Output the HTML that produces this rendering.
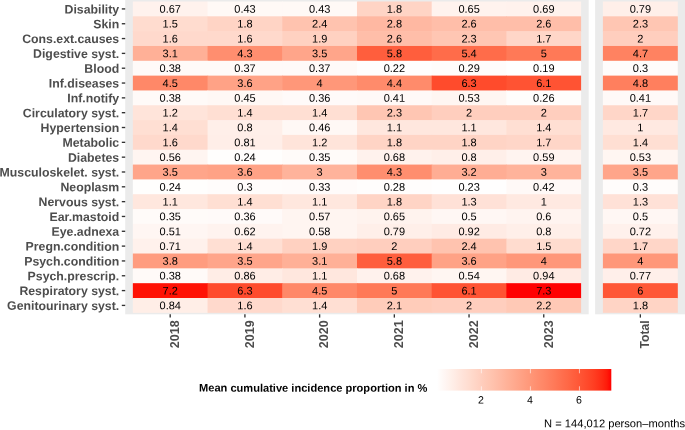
<!DOCTYPE html>
<html><head><meta charset="utf-8"><title>heatmap</title>
<style>
html,body{margin:0;padding:0;background:#fff;}
body{width:685px;height:430px;overflow:hidden;}
svg{display:block;font-family:"Liberation Sans",sans-serif;will-change:transform;opacity:0.999;}
.c{font-size:11.0px;fill:#000;text-anchor:middle;}
.yl{font-size:12.3px;font-weight:bold;fill:#4d4d4d;text-anchor:end;}
.xl{font-size:12.6px;font-weight:bold;fill:#4d4d4d;text-anchor:end;}
.tk{stroke:#333333;stroke-width:1.35;fill:none;}
</style></head><body>
<svg width="685" height="430" viewBox="0 0 685 430">
<rect x="0" y="0" width="685" height="430" fill="#ffffff"/>
<rect x="125.2" y="0" width="463.50" height="314.3" fill="#ebebeb"/>
<rect x="595.1" y="0" width="89.90" height="314.3" fill="#ebebeb"/>
<g>
<rect x="132.85" y="1.50" width="75.31" height="15.425" fill="#fff2ed"/>
<rect x="207.56" y="1.50" width="75.31" height="15.425" fill="#fff9f6"/>
<rect x="282.27" y="1.50" width="75.31" height="15.425" fill="#fff9f6"/>
<rect x="356.98" y="1.50" width="75.31" height="15.425" fill="#ffd4c5"/>
<rect x="431.69" y="1.50" width="75.31" height="15.425" fill="#fff3ee"/>
<rect x="506.40" y="1.50" width="74.71" height="15.425" fill="#fff2ed"/>
<rect x="602.90" y="1.50" width="74.90" height="15.425" fill="#ffefe9"/>
<rect x="132.85" y="16.32" width="75.31" height="15.425" fill="#ffdccf"/>
<rect x="207.56" y="16.32" width="75.31" height="15.425" fill="#ffd4c5"/>
<rect x="282.27" y="16.32" width="75.31" height="15.425" fill="#ffc3af"/>
<rect x="356.98" y="16.32" width="75.31" height="15.425" fill="#ffb8a2"/>
<rect x="431.69" y="16.32" width="75.31" height="15.425" fill="#ffbea9"/>
<rect x="506.40" y="16.32" width="74.71" height="15.425" fill="#ffbea9"/>
<rect x="602.90" y="16.32" width="74.90" height="15.425" fill="#ffc6b3"/>
<rect x="132.85" y="31.15" width="75.31" height="15.425" fill="#ffd9cc"/>
<rect x="207.56" y="31.15" width="75.31" height="15.425" fill="#ffd9cc"/>
<rect x="282.27" y="31.15" width="75.31" height="15.425" fill="#ffd1c1"/>
<rect x="356.98" y="31.15" width="75.31" height="15.425" fill="#ffbea9"/>
<rect x="431.69" y="31.15" width="75.31" height="15.425" fill="#ffc6b3"/>
<rect x="506.40" y="31.15" width="74.71" height="15.425" fill="#ffd6c8"/>
<rect x="602.90" y="31.15" width="74.90" height="15.425" fill="#ffcebe"/>
<rect x="132.85" y="45.97" width="75.31" height="15.425" fill="#ffb097"/>
<rect x="207.56" y="45.97" width="75.31" height="15.425" fill="#ff8e6f"/>
<rect x="282.27" y="45.97" width="75.31" height="15.425" fill="#ffa58a"/>
<rect x="356.98" y="45.97" width="75.31" height="15.425" fill="#ff5e3d"/>
<rect x="431.69" y="45.97" width="75.31" height="15.425" fill="#ff6c4a"/>
<rect x="506.40" y="45.97" width="74.71" height="15.425" fill="#ff7957"/>
<rect x="602.90" y="45.97" width="74.90" height="15.425" fill="#ff8261"/>
<rect x="132.85" y="60.80" width="75.31" height="15.425" fill="#fffaf8"/>
<rect x="207.56" y="60.80" width="75.31" height="15.425" fill="#fffaf8"/>
<rect x="282.27" y="60.80" width="75.31" height="15.425" fill="#fffaf8"/>
<rect x="356.98" y="60.80" width="75.31" height="15.425" fill="#fffefe"/>
<rect x="431.69" y="60.80" width="75.31" height="15.425" fill="#fffcfb"/>
<rect x="506.40" y="60.80" width="74.71" height="15.425" fill="#ffffff"/>
<rect x="602.90" y="60.80" width="74.90" height="15.425" fill="#fffcfb"/>
<rect x="132.85" y="75.62" width="75.31" height="15.425" fill="#ff8868"/>
<rect x="207.56" y="75.62" width="75.31" height="15.425" fill="#ffa286"/>
<rect x="282.27" y="75.62" width="75.31" height="15.425" fill="#ff9779"/>
<rect x="356.98" y="75.62" width="75.31" height="15.425" fill="#ff8b6b"/>
<rect x="431.69" y="75.62" width="75.31" height="15.425" fill="#ff4b2c"/>
<rect x="506.40" y="75.62" width="74.71" height="15.425" fill="#ff5333"/>
<rect x="602.90" y="75.62" width="74.90" height="15.425" fill="#ff7f5e"/>
<rect x="132.85" y="90.45" width="75.31" height="15.425" fill="#fffaf8"/>
<rect x="207.56" y="90.45" width="75.31" height="15.425" fill="#fff8f5"/>
<rect x="282.27" y="90.45" width="75.31" height="15.425" fill="#fffaf9"/>
<rect x="356.98" y="90.45" width="75.31" height="15.425" fill="#fff9f7"/>
<rect x="431.69" y="90.45" width="75.31" height="15.425" fill="#fff6f2"/>
<rect x="506.40" y="90.45" width="74.71" height="15.425" fill="#fffdfc"/>
<rect x="602.90" y="90.45" width="74.90" height="15.425" fill="#fff9f7"/>
<rect x="132.85" y="105.27" width="75.31" height="15.425" fill="#ffe4da"/>
<rect x="207.56" y="105.27" width="75.31" height="15.425" fill="#ffdfd3"/>
<rect x="282.27" y="105.27" width="75.31" height="15.425" fill="#ffdfd3"/>
<rect x="356.98" y="105.27" width="75.31" height="15.425" fill="#ffc6b3"/>
<rect x="431.69" y="105.27" width="75.31" height="15.425" fill="#ffcebe"/>
<rect x="506.40" y="105.27" width="74.71" height="15.425" fill="#ffcebe"/>
<rect x="602.90" y="105.27" width="74.90" height="15.425" fill="#ffd6c8"/>
<rect x="132.85" y="120.10" width="75.31" height="15.425" fill="#ffdfd3"/>
<rect x="207.56" y="120.10" width="75.31" height="15.425" fill="#ffefe9"/>
<rect x="282.27" y="120.10" width="75.31" height="15.425" fill="#fff8f5"/>
<rect x="356.98" y="120.10" width="75.31" height="15.425" fill="#ffe7de"/>
<rect x="431.69" y="120.10" width="75.31" height="15.425" fill="#ffe7de"/>
<rect x="506.40" y="120.10" width="74.71" height="15.425" fill="#ffdfd3"/>
<rect x="602.90" y="120.10" width="74.90" height="15.425" fill="#ffe9e1"/>
<rect x="132.85" y="134.92" width="75.31" height="15.425" fill="#ffd9cc"/>
<rect x="207.56" y="134.92" width="75.31" height="15.425" fill="#ffeee8"/>
<rect x="282.27" y="134.92" width="75.31" height="15.425" fill="#ffe4da"/>
<rect x="356.98" y="134.92" width="75.31" height="15.425" fill="#ffd4c5"/>
<rect x="431.69" y="134.92" width="75.31" height="15.425" fill="#ffd4c5"/>
<rect x="506.40" y="134.92" width="74.71" height="15.425" fill="#ffd6c8"/>
<rect x="602.90" y="134.92" width="74.90" height="15.425" fill="#ffdfd3"/>
<rect x="132.85" y="149.75" width="75.31" height="15.425" fill="#fff5f1"/>
<rect x="207.56" y="149.75" width="75.31" height="15.425" fill="#fffefd"/>
<rect x="282.27" y="149.75" width="75.31" height="15.425" fill="#fffbf9"/>
<rect x="356.98" y="149.75" width="75.31" height="15.425" fill="#fff2ed"/>
<rect x="431.69" y="149.75" width="75.31" height="15.425" fill="#ffefe9"/>
<rect x="506.40" y="149.75" width="74.71" height="15.425" fill="#fff4f0"/>
<rect x="602.90" y="149.75" width="74.90" height="15.425" fill="#fff6f2"/>
<rect x="132.85" y="164.57" width="75.31" height="15.425" fill="#ffa58a"/>
<rect x="207.56" y="164.57" width="75.31" height="15.425" fill="#ffa286"/>
<rect x="282.27" y="164.57" width="75.31" height="15.425" fill="#ffb39b"/>
<rect x="356.98" y="164.57" width="75.31" height="15.425" fill="#ff8e6f"/>
<rect x="431.69" y="164.57" width="75.31" height="15.425" fill="#ffad94"/>
<rect x="506.40" y="164.57" width="74.71" height="15.425" fill="#ffb39b"/>
<rect x="602.90" y="164.57" width="74.90" height="15.425" fill="#ffa58a"/>
<rect x="132.85" y="179.40" width="75.31" height="15.425" fill="#fffefd"/>
<rect x="207.56" y="179.40" width="75.31" height="15.425" fill="#fffcfb"/>
<rect x="282.27" y="179.40" width="75.31" height="15.425" fill="#fffbfa"/>
<rect x="356.98" y="179.40" width="75.31" height="15.425" fill="#fffdfc"/>
<rect x="431.69" y="179.40" width="75.31" height="15.425" fill="#fffefe"/>
<rect x="506.40" y="179.40" width="74.71" height="15.425" fill="#fff9f7"/>
<rect x="602.90" y="179.40" width="74.90" height="15.425" fill="#fffcfb"/>
<rect x="132.85" y="194.22" width="75.31" height="15.425" fill="#ffe7de"/>
<rect x="207.56" y="194.22" width="75.31" height="15.425" fill="#ffdfd3"/>
<rect x="282.27" y="194.22" width="75.31" height="15.425" fill="#ffe7de"/>
<rect x="356.98" y="194.22" width="75.31" height="15.425" fill="#ffd4c5"/>
<rect x="431.69" y="194.22" width="75.31" height="15.425" fill="#ffe1d7"/>
<rect x="506.40" y="194.22" width="74.71" height="15.425" fill="#ffe9e1"/>
<rect x="602.90" y="194.22" width="74.90" height="15.425" fill="#ffe1d7"/>
<rect x="132.85" y="209.05" width="75.31" height="15.425" fill="#fffbf9"/>
<rect x="207.56" y="209.05" width="75.31" height="15.425" fill="#fffaf9"/>
<rect x="282.27" y="209.05" width="75.31" height="15.425" fill="#fff5f1"/>
<rect x="356.98" y="209.05" width="75.31" height="15.425" fill="#fff3ee"/>
<rect x="431.69" y="209.05" width="75.31" height="15.425" fill="#fff7f4"/>
<rect x="506.40" y="209.05" width="74.71" height="15.425" fill="#fff4f0"/>
<rect x="602.90" y="209.05" width="74.90" height="15.425" fill="#fff7f4"/>
<rect x="132.85" y="223.88" width="75.31" height="15.425" fill="#fff6f3"/>
<rect x="207.56" y="223.88" width="75.31" height="15.425" fill="#fff3ef"/>
<rect x="282.27" y="223.88" width="75.31" height="15.425" fill="#fff5f1"/>
<rect x="356.98" y="223.88" width="75.31" height="15.425" fill="#ffefe9"/>
<rect x="431.69" y="223.88" width="75.31" height="15.425" fill="#ffebe4"/>
<rect x="506.40" y="223.88" width="74.71" height="15.425" fill="#ffefe9"/>
<rect x="602.90" y="223.88" width="74.90" height="15.425" fill="#fff1ec"/>
<rect x="132.85" y="238.70" width="75.31" height="15.425" fill="#fff1ec"/>
<rect x="207.56" y="238.70" width="75.31" height="15.425" fill="#ffdfd3"/>
<rect x="282.27" y="238.70" width="75.31" height="15.425" fill="#ffd1c1"/>
<rect x="356.98" y="238.70" width="75.31" height="15.425" fill="#ffcebe"/>
<rect x="431.69" y="238.70" width="75.31" height="15.425" fill="#ffc3af"/>
<rect x="506.40" y="238.70" width="74.71" height="15.425" fill="#ffdccf"/>
<rect x="602.90" y="238.70" width="74.90" height="15.425" fill="#ffd6c8"/>
<rect x="132.85" y="253.52" width="75.31" height="15.425" fill="#ff9c7f"/>
<rect x="207.56" y="253.52" width="75.31" height="15.425" fill="#ffa58a"/>
<rect x="282.27" y="253.52" width="75.31" height="15.425" fill="#ffb097"/>
<rect x="356.98" y="253.52" width="75.31" height="15.425" fill="#ff5e3d"/>
<rect x="431.69" y="253.52" width="75.31" height="15.425" fill="#ffa286"/>
<rect x="506.40" y="253.52" width="74.71" height="15.425" fill="#ff9779"/>
<rect x="602.90" y="253.52" width="74.90" height="15.425" fill="#ff9779"/>
<rect x="132.85" y="268.35" width="75.31" height="15.425" fill="#fffaf8"/>
<rect x="207.56" y="268.35" width="75.31" height="15.425" fill="#ffede6"/>
<rect x="282.27" y="268.35" width="75.31" height="15.425" fill="#ffe7de"/>
<rect x="356.98" y="268.35" width="75.31" height="15.425" fill="#fff2ed"/>
<rect x="431.69" y="268.35" width="75.31" height="15.425" fill="#fff6f2"/>
<rect x="506.40" y="268.35" width="74.71" height="15.425" fill="#ffebe4"/>
<rect x="602.90" y="268.35" width="74.90" height="15.425" fill="#ffefea"/>
<rect x="132.85" y="283.18" width="75.31" height="15.425" fill="#ff1205"/>
<rect x="207.56" y="283.18" width="75.31" height="15.425" fill="#ff4b2c"/>
<rect x="282.27" y="283.18" width="75.31" height="15.425" fill="#ff8868"/>
<rect x="356.98" y="283.18" width="75.31" height="15.425" fill="#ff7957"/>
<rect x="431.69" y="283.18" width="75.31" height="15.425" fill="#ff5333"/>
<rect x="506.40" y="283.18" width="74.71" height="15.425" fill="#ff0000"/>
<rect x="602.90" y="283.18" width="74.90" height="15.425" fill="#ff5736"/>
<rect x="132.85" y="298.00" width="75.31" height="14.825" fill="#ffeee7"/>
<rect x="207.56" y="298.00" width="75.31" height="14.825" fill="#ffd9cc"/>
<rect x="282.27" y="298.00" width="75.31" height="14.825" fill="#ffdfd3"/>
<rect x="356.98" y="298.00" width="75.31" height="14.825" fill="#ffccba"/>
<rect x="431.69" y="298.00" width="75.31" height="14.825" fill="#ffcebe"/>
<rect x="506.40" y="298.00" width="74.71" height="14.825" fill="#ffc9b6"/>
<rect x="602.90" y="298.00" width="74.90" height="14.825" fill="#ffd4c5"/>
</g>
<g class="c">
<text transform="translate(170.25,12.76) rotate(0.05)">0.67</text>
<text transform="translate(244.97,12.76) rotate(0.05)">0.43</text>
<text transform="translate(319.68,12.76) rotate(0.05)">0.43</text>
<text transform="translate(394.39,12.76) rotate(0.05)">1.8</text>
<text transform="translate(469.09,12.76) rotate(0.05)">0.65</text>
<text transform="translate(543.80,12.76) rotate(0.05)">0.69</text>
<text transform="translate(640.40,12.76) rotate(0.05)">0.79</text>
<text transform="translate(170.25,27.59) rotate(0.05)">1.5</text>
<text transform="translate(244.97,27.59) rotate(0.05)">1.8</text>
<text transform="translate(319.68,27.59) rotate(0.05)">2.4</text>
<text transform="translate(394.39,27.59) rotate(0.05)">2.8</text>
<text transform="translate(469.09,27.59) rotate(0.05)">2.6</text>
<text transform="translate(543.80,27.59) rotate(0.05)">2.6</text>
<text transform="translate(640.40,27.59) rotate(0.05)">2.3</text>
<text transform="translate(170.25,42.41) rotate(0.05)">1.6</text>
<text transform="translate(244.97,42.41) rotate(0.05)">1.6</text>
<text transform="translate(319.68,42.41) rotate(0.05)">1.9</text>
<text transform="translate(394.39,42.41) rotate(0.05)">2.6</text>
<text transform="translate(469.09,42.41) rotate(0.05)">2.3</text>
<text transform="translate(543.80,42.41) rotate(0.05)">1.7</text>
<text transform="translate(640.40,42.41) rotate(0.05)">2</text>
<text transform="translate(170.25,57.24) rotate(0.05)">3.1</text>
<text transform="translate(244.97,57.24) rotate(0.05)">4.3</text>
<text transform="translate(319.68,57.24) rotate(0.05)">3.5</text>
<text transform="translate(394.39,57.24) rotate(0.05)">5.8</text>
<text transform="translate(469.09,57.24) rotate(0.05)">5.4</text>
<text transform="translate(543.80,57.24) rotate(0.05)">5</text>
<text transform="translate(640.40,57.24) rotate(0.05)">4.7</text>
<text transform="translate(170.25,72.06) rotate(0.05)">0.38</text>
<text transform="translate(244.97,72.06) rotate(0.05)">0.37</text>
<text transform="translate(319.68,72.06) rotate(0.05)">0.37</text>
<text transform="translate(394.39,72.06) rotate(0.05)">0.22</text>
<text transform="translate(469.09,72.06) rotate(0.05)">0.29</text>
<text transform="translate(543.80,72.06) rotate(0.05)">0.19</text>
<text transform="translate(640.40,72.06) rotate(0.05)">0.3</text>
<text transform="translate(170.25,86.89) rotate(0.05)">4.5</text>
<text transform="translate(244.97,86.89) rotate(0.05)">3.6</text>
<text transform="translate(319.68,86.89) rotate(0.05)">4</text>
<text transform="translate(394.39,86.89) rotate(0.05)">4.4</text>
<text transform="translate(469.09,86.89) rotate(0.05)">6.3</text>
<text transform="translate(543.80,86.89) rotate(0.05)">6.1</text>
<text transform="translate(640.40,86.89) rotate(0.05)">4.8</text>
<text transform="translate(170.25,101.71) rotate(0.05)">0.38</text>
<text transform="translate(244.97,101.71) rotate(0.05)">0.45</text>
<text transform="translate(319.68,101.71) rotate(0.05)">0.36</text>
<text transform="translate(394.39,101.71) rotate(0.05)">0.41</text>
<text transform="translate(469.09,101.71) rotate(0.05)">0.53</text>
<text transform="translate(543.80,101.71) rotate(0.05)">0.26</text>
<text transform="translate(640.40,101.71) rotate(0.05)">0.41</text>
<text transform="translate(170.25,116.54) rotate(0.05)">1.2</text>
<text transform="translate(244.97,116.54) rotate(0.05)">1.4</text>
<text transform="translate(319.68,116.54) rotate(0.05)">1.4</text>
<text transform="translate(394.39,116.54) rotate(0.05)">2.3</text>
<text transform="translate(469.09,116.54) rotate(0.05)">2</text>
<text transform="translate(543.80,116.54) rotate(0.05)">2</text>
<text transform="translate(640.40,116.54) rotate(0.05)">1.7</text>
<text transform="translate(170.25,131.36) rotate(0.05)">1.4</text>
<text transform="translate(244.97,131.36) rotate(0.05)">0.8</text>
<text transform="translate(319.68,131.36) rotate(0.05)">0.46</text>
<text transform="translate(394.39,131.36) rotate(0.05)">1.1</text>
<text transform="translate(469.09,131.36) rotate(0.05)">1.1</text>
<text transform="translate(543.80,131.36) rotate(0.05)">1.4</text>
<text transform="translate(640.40,131.36) rotate(0.05)">1</text>
<text transform="translate(170.25,146.19) rotate(0.05)">1.6</text>
<text transform="translate(244.97,146.19) rotate(0.05)">0.81</text>
<text transform="translate(319.68,146.19) rotate(0.05)">1.2</text>
<text transform="translate(394.39,146.19) rotate(0.05)">1.8</text>
<text transform="translate(469.09,146.19) rotate(0.05)">1.8</text>
<text transform="translate(543.80,146.19) rotate(0.05)">1.7</text>
<text transform="translate(640.40,146.19) rotate(0.05)">1.4</text>
<text transform="translate(170.25,161.01) rotate(0.05)">0.56</text>
<text transform="translate(244.97,161.01) rotate(0.05)">0.24</text>
<text transform="translate(319.68,161.01) rotate(0.05)">0.35</text>
<text transform="translate(394.39,161.01) rotate(0.05)">0.68</text>
<text transform="translate(469.09,161.01) rotate(0.05)">0.8</text>
<text transform="translate(543.80,161.01) rotate(0.05)">0.59</text>
<text transform="translate(640.40,161.01) rotate(0.05)">0.53</text>
<text transform="translate(170.25,175.84) rotate(0.05)">3.5</text>
<text transform="translate(244.97,175.84) rotate(0.05)">3.6</text>
<text transform="translate(319.68,175.84) rotate(0.05)">3</text>
<text transform="translate(394.39,175.84) rotate(0.05)">4.3</text>
<text transform="translate(469.09,175.84) rotate(0.05)">3.2</text>
<text transform="translate(543.80,175.84) rotate(0.05)">3</text>
<text transform="translate(640.40,175.84) rotate(0.05)">3.5</text>
<text transform="translate(170.25,190.66) rotate(0.05)">0.24</text>
<text transform="translate(244.97,190.66) rotate(0.05)">0.3</text>
<text transform="translate(319.68,190.66) rotate(0.05)">0.33</text>
<text transform="translate(394.39,190.66) rotate(0.05)">0.28</text>
<text transform="translate(469.09,190.66) rotate(0.05)">0.23</text>
<text transform="translate(543.80,190.66) rotate(0.05)">0.42</text>
<text transform="translate(640.40,190.66) rotate(0.05)">0.3</text>
<text transform="translate(170.25,205.49) rotate(0.05)">1.1</text>
<text transform="translate(244.97,205.49) rotate(0.05)">1.4</text>
<text transform="translate(319.68,205.49) rotate(0.05)">1.1</text>
<text transform="translate(394.39,205.49) rotate(0.05)">1.8</text>
<text transform="translate(469.09,205.49) rotate(0.05)">1.3</text>
<text transform="translate(543.80,205.49) rotate(0.05)">1</text>
<text transform="translate(640.40,205.49) rotate(0.05)">1.3</text>
<text transform="translate(170.25,220.31) rotate(0.05)">0.35</text>
<text transform="translate(244.97,220.31) rotate(0.05)">0.36</text>
<text transform="translate(319.68,220.31) rotate(0.05)">0.57</text>
<text transform="translate(394.39,220.31) rotate(0.05)">0.65</text>
<text transform="translate(469.09,220.31) rotate(0.05)">0.5</text>
<text transform="translate(543.80,220.31) rotate(0.05)">0.6</text>
<text transform="translate(640.40,220.31) rotate(0.05)">0.5</text>
<text transform="translate(170.25,235.14) rotate(0.05)">0.51</text>
<text transform="translate(244.97,235.14) rotate(0.05)">0.62</text>
<text transform="translate(319.68,235.14) rotate(0.05)">0.58</text>
<text transform="translate(394.39,235.14) rotate(0.05)">0.79</text>
<text transform="translate(469.09,235.14) rotate(0.05)">0.92</text>
<text transform="translate(543.80,235.14) rotate(0.05)">0.8</text>
<text transform="translate(640.40,235.14) rotate(0.05)">0.72</text>
<text transform="translate(170.25,249.96) rotate(0.05)">0.71</text>
<text transform="translate(244.97,249.96) rotate(0.05)">1.4</text>
<text transform="translate(319.68,249.96) rotate(0.05)">1.9</text>
<text transform="translate(394.39,249.96) rotate(0.05)">2</text>
<text transform="translate(469.09,249.96) rotate(0.05)">2.4</text>
<text transform="translate(543.80,249.96) rotate(0.05)">1.5</text>
<text transform="translate(640.40,249.96) rotate(0.05)">1.7</text>
<text transform="translate(170.25,264.79) rotate(0.05)">3.8</text>
<text transform="translate(244.97,264.79) rotate(0.05)">3.5</text>
<text transform="translate(319.68,264.79) rotate(0.05)">3.1</text>
<text transform="translate(394.39,264.79) rotate(0.05)">5.8</text>
<text transform="translate(469.09,264.79) rotate(0.05)">3.6</text>
<text transform="translate(543.80,264.79) rotate(0.05)">4</text>
<text transform="translate(640.40,264.79) rotate(0.05)">4</text>
<text transform="translate(170.25,279.61) rotate(0.05)">0.38</text>
<text transform="translate(244.97,279.61) rotate(0.05)">0.86</text>
<text transform="translate(319.68,279.61) rotate(0.05)">1.1</text>
<text transform="translate(394.39,279.61) rotate(0.05)">0.68</text>
<text transform="translate(469.09,279.61) rotate(0.05)">0.54</text>
<text transform="translate(543.80,279.61) rotate(0.05)">0.94</text>
<text transform="translate(640.40,279.61) rotate(0.05)">0.77</text>
<text transform="translate(170.25,294.44) rotate(0.05)">7.2</text>
<text transform="translate(244.97,294.44) rotate(0.05)">6.3</text>
<text transform="translate(319.68,294.44) rotate(0.05)">4.5</text>
<text transform="translate(394.39,294.44) rotate(0.05)">5</text>
<text transform="translate(469.09,294.44) rotate(0.05)">6.1</text>
<text transform="translate(543.80,294.44) rotate(0.05)">7.3</text>
<text transform="translate(640.40,294.44) rotate(0.05)">6</text>
<text transform="translate(170.25,309.26) rotate(0.05)">0.84</text>
<text transform="translate(244.97,309.26) rotate(0.05)">1.6</text>
<text transform="translate(319.68,309.26) rotate(0.05)">1.4</text>
<text transform="translate(394.39,309.26) rotate(0.05)">2.1</text>
<text transform="translate(469.09,309.26) rotate(0.05)">2</text>
<text transform="translate(543.80,309.26) rotate(0.05)">2.2</text>
<text transform="translate(640.40,309.26) rotate(0.05)">1.8</text>
</g>
<g class="yl">
<text transform="translate(119.2,13.45) rotate(0.05)">Disability</text>
<text transform="translate(119.2,28.28) rotate(0.05)">Skin</text>
<text transform="translate(119.2,43.10) rotate(0.05)">Cons.ext.causes</text>
<text transform="translate(119.2,57.93) rotate(0.05)">Digestive syst.</text>
<text transform="translate(119.2,72.75) rotate(0.05)">Blood</text>
<text transform="translate(119.2,87.58) rotate(0.05)">Inf.diseases</text>
<text transform="translate(119.2,102.40) rotate(0.05)">Inf.notify</text>
<text transform="translate(119.2,117.23) rotate(0.05)">Circulatory syst.</text>
<text transform="translate(119.2,132.05) rotate(0.05)">Hypertension</text>
<text transform="translate(119.2,146.88) rotate(0.05)">Metabolic</text>
<text transform="translate(119.2,161.70) rotate(0.05)">Diabetes</text>
<text transform="translate(119.2,176.53) rotate(0.05)">Musculoskelet. syst.</text>
<text transform="translate(119.2,191.35) rotate(0.05)">Neoplasm</text>
<text transform="translate(119.2,206.18) rotate(0.05)">Nervous syst.</text>
<text transform="translate(119.2,221.00) rotate(0.05)">Ear.mastoid</text>
<text transform="translate(119.2,235.83) rotate(0.05)">Eye.adnexa</text>
<text transform="translate(119.2,250.65) rotate(0.05)">Pregn.condition</text>
<text transform="translate(119.2,265.48) rotate(0.05)">Psych.condition</text>
<text transform="translate(119.2,280.30) rotate(0.05)">Psych.prescrip.</text>
<text transform="translate(119.2,295.13) rotate(0.05)">Respiratory syst.</text>
<text transform="translate(119.2,309.95) rotate(0.05)">Genitourinary syst.</text>
</g>
<g class="tk">
<line x1="121.8" x2="125.2" y1="8.91" y2="8.91"/>
<line x1="121.8" x2="125.2" y1="23.74" y2="23.74"/>
<line x1="121.8" x2="125.2" y1="38.56" y2="38.56"/>
<line x1="121.8" x2="125.2" y1="53.39" y2="53.39"/>
<line x1="121.8" x2="125.2" y1="68.21" y2="68.21"/>
<line x1="121.8" x2="125.2" y1="83.04" y2="83.04"/>
<line x1="121.8" x2="125.2" y1="97.86" y2="97.86"/>
<line x1="121.8" x2="125.2" y1="112.69" y2="112.69"/>
<line x1="121.8" x2="125.2" y1="127.51" y2="127.51"/>
<line x1="121.8" x2="125.2" y1="142.34" y2="142.34"/>
<line x1="121.8" x2="125.2" y1="157.16" y2="157.16"/>
<line x1="121.8" x2="125.2" y1="171.99" y2="171.99"/>
<line x1="121.8" x2="125.2" y1="186.81" y2="186.81"/>
<line x1="121.8" x2="125.2" y1="201.64" y2="201.64"/>
<line x1="121.8" x2="125.2" y1="216.46" y2="216.46"/>
<line x1="121.8" x2="125.2" y1="231.29" y2="231.29"/>
<line x1="121.8" x2="125.2" y1="246.11" y2="246.11"/>
<line x1="121.8" x2="125.2" y1="260.94" y2="260.94"/>
<line x1="121.8" x2="125.2" y1="275.76" y2="275.76"/>
<line x1="121.8" x2="125.2" y1="290.59" y2="290.59"/>
<line x1="121.8" x2="125.2" y1="305.41" y2="305.41"/>
<line x1="170.20" x2="170.20" y1="314.3" y2="317.60"/>
<line x1="244.91" x2="244.91" y1="314.3" y2="317.60"/>
<line x1="319.62" x2="319.62" y1="314.3" y2="317.60"/>
<line x1="394.34" x2="394.34" y1="314.3" y2="317.60"/>
<line x1="469.04" x2="469.04" y1="314.3" y2="317.60"/>
<line x1="543.75" x2="543.75" y1="314.3" y2="317.60"/>
<line x1="640.35" x2="640.35" y1="314.3" y2="317.60"/>
</g>
<g class="xl">
<text transform="translate(178.97,320.3) rotate(-90)">2018</text>
<text transform="translate(253.69,320.3) rotate(-90)">2019</text>
<text transform="translate(328.39,320.3) rotate(-90)">2020</text>
<text transform="translate(403.11,320.3) rotate(-90)">2021</text>
<text transform="translate(477.81,320.3) rotate(-90)">2022</text>
<text transform="translate(552.52,320.3) rotate(-90)">2023</text>
<text transform="translate(649.12,320.3) rotate(-90)" style="font-size:12.2px">Total</text>
</g>
<text transform="translate(199.0,391.6) rotate(0.05)" style="font-size:11.08px;font-weight:bold;fill:#000">Mean cumulative incidence proportion in %</text>
<defs><linearGradient id="lg" x1="0" x2="1" y1="0" y2="0"><stop offset="0.0000" stop-color="#ffffff"/><stop offset="0.0250" stop-color="#fffaf8"/><stop offset="0.0500" stop-color="#fff5f2"/><stop offset="0.0750" stop-color="#fff1eb"/><stop offset="0.1000" stop-color="#ffece5"/><stop offset="0.1250" stop-color="#ffe7de"/><stop offset="0.1500" stop-color="#ffe2d8"/><stop offset="0.1750" stop-color="#ffded2"/><stop offset="0.2000" stop-color="#ffd9cb"/><stop offset="0.2250" stop-color="#ffd4c5"/><stop offset="0.2500" stop-color="#ffcfbf"/><stop offset="0.2750" stop-color="#ffcab8"/><stop offset="0.3000" stop-color="#ffc6b2"/><stop offset="0.3250" stop-color="#ffc1ac"/><stop offset="0.3500" stop-color="#ffbca6"/><stop offset="0.3750" stop-color="#ffb7a0"/><stop offset="0.4000" stop-color="#ffb299"/><stop offset="0.4250" stop-color="#ffad93"/><stop offset="0.4500" stop-color="#ffa88d"/><stop offset="0.4750" stop-color="#ffa387"/><stop offset="0.5000" stop-color="#ff9e81"/><stop offset="0.5250" stop-color="#ff997b"/><stop offset="0.5500" stop-color="#ff9475"/><stop offset="0.5750" stop-color="#ff8e6f"/><stop offset="0.6000" stop-color="#ff8969"/><stop offset="0.6250" stop-color="#ff8464"/><stop offset="0.6500" stop-color="#ff7e5e"/><stop offset="0.6750" stop-color="#ff7958"/><stop offset="0.7000" stop-color="#ff7352"/><stop offset="0.7250" stop-color="#ff6d4c"/><stop offset="0.7500" stop-color="#ff6846"/><stop offset="0.7750" stop-color="#ff6140"/><stop offset="0.8000" stop-color="#ff5b3a"/><stop offset="0.8250" stop-color="#ff5434"/><stop offset="0.8500" stop-color="#ff4d2e"/><stop offset="0.8750" stop-color="#ff4628"/><stop offset="0.9000" stop-color="#ff3e22"/><stop offset="0.9250" stop-color="#ff341b"/><stop offset="0.9500" stop-color="#ff2913"/><stop offset="0.9750" stop-color="#ff1b0a"/><stop offset="1.0000" stop-color="#ff0000"/></linearGradient></defs>
<rect x="437.0" y="369.0" width="174.30" height="21.60" fill="url(#lg)"/>
<line x1="481.37" x2="481.37" y1="369.0" y2="373.30" stroke="#fff" stroke-width="0.6"/>
<line x1="481.37" x2="481.37" y1="386.30" y2="390.6" stroke="#fff" stroke-width="0.6"/>
<text transform="translate(480.97,403.6) rotate(0.05)" style="font-size:10.6px;fill:#000;text-anchor:middle">2</text>
<line x1="530.40" x2="530.40" y1="369.0" y2="373.30" stroke="#fff" stroke-width="0.6"/>
<line x1="530.40" x2="530.40" y1="386.30" y2="390.6" stroke="#fff" stroke-width="0.6"/>
<text transform="translate(530.00,403.6) rotate(0.05)" style="font-size:10.6px;fill:#000;text-anchor:middle">4</text>
<line x1="579.43" x2="579.43" y1="369.0" y2="373.30" stroke="#fff" stroke-width="0.6"/>
<line x1="579.43" x2="579.43" y1="386.30" y2="390.6" stroke="#fff" stroke-width="0.6"/>
<text transform="translate(579.03,403.6) rotate(0.05)" style="font-size:10.6px;fill:#000;text-anchor:middle">6</text>
<text transform="translate(685,427.3) rotate(0.05)" style="font-size:11.15px;fill:#000;text-anchor:end">N = 144,012 person–months</text>
</svg></body></html>
